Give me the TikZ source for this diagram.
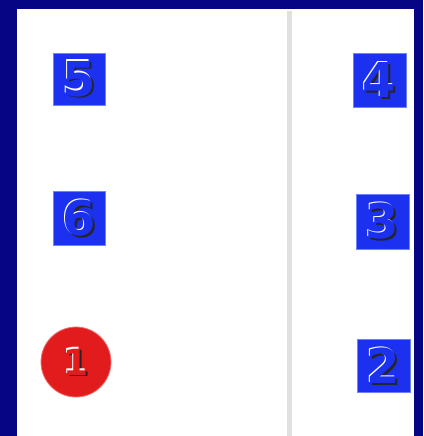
\documentclass[tikz,border=0pt]{standalone}
\usepackage{fontspec}
\newfontfamily\digitfont{DejaVu Sans}
\definecolor{navy}{RGB}{6,6,132}
\definecolor{boxblue}{RGB}{28,48,240}
\definecolor{boxedge}{RGB}{110,130,255}
\definecolor{redc}{RGB}{226,28,28}
\definecolor{redge}{RGB}{240,110,110}
\definecolor{sep}{RGB}{224,224,224}
\newcommand{\embossed}[2]{% digit, face colour
  \rlap{\hspace{1.8pt}\raisebox{-1.8pt}[0pt][0pt]{\color{black!85}#1}}%
  \rlap{\hspace{-1.3pt}\raisebox{1.3pt}[0pt][0pt]{\color{white}#1}}%
  {\color{#2}#1}}
\tikzset{
  sq/.style={draw=boxedge, line width=0.8pt, fill=boxblue, inner sep=0pt},
  circ/.style={circle, draw=redge, line width=0.8pt, fill=redc, inner sep=0pt, minimum size=70pt},
  dig/.style={inner sep=0pt, font=\digitfont\bfseries\fontsize{48}{48}\selectfont},
  smalldig/.style={inner sep=0pt, font=\digitfont\bfseries\fontsize{36}{36}\selectfont},
}
\begin{document}
\begin{tikzpicture}[x=1pt,y=-1pt]
\useasboundingbox (0,0) rectangle (423,436);
\fill[navy] (0,0) rectangle (423,436);
\fill[white] (17,9) rectangle (414,436);
\fill[sep] (287,11) rectangle (292,436);
% squares
\node[sq, minimum width=52pt, minimum height=52pt] (b5) at (79,79) {};
\node[sq, minimum width=52pt, minimum height=54pt] (b6) at (79,218) {};
\node[sq, minimum width=53pt, minimum height=54pt] (b4) at (379.5,80) {};
\node[sq, minimum width=53pt, minimum height=55pt] (b3) at (382.5,221.5) {};
\node[sq, minimum width=53pt, minimum height=53pt] (b2) at (383.5,366) {};
\node[circ] (c1) at (76,362) {};
% digits
\node[dig] (t5) at (b5) {\embossed{5}{boxblue}};
\node[dig] (t6) at (b6) {\embossed{6}{boxblue}};
\node[dig] (t4) at (b4) {\embossed{4}{boxblue}};
\node[dig] (t3) at (b3) {\embossed{3}{boxblue}};
\node[dig] (t2) at (b2) {\embossed{2}{boxblue}};
\node[smalldig] (t1) at (c1) {\embossed{1}{redc}};
\end{tikzpicture}
\end{document}
